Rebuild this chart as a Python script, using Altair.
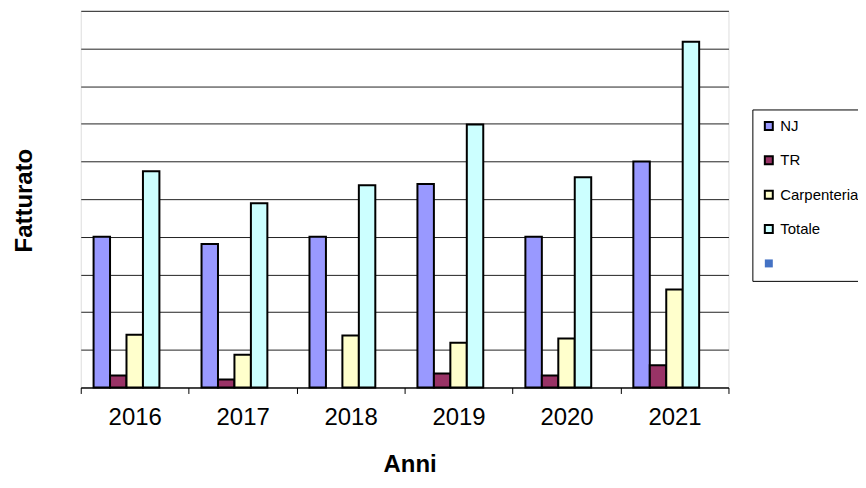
import altair as alt
import pandas as pd

years = ["2016", "2017", "2018", "2019", "2020", "2021"]
series = ["NJ", "TR", "Carpenteria", "Totale", " "]
colors = ["#9999FF", "#993366", "#FFFFCC", "#CCFFFF", "#4472C4"]
strokes = ["#000000", "#000000", "#000000", "#000000", "transparent"]

nj = [4.0, 3.81, 4.0, 5.4, 4.0, 6.0]
tr = [0.32, 0.21, None, 0.37, 0.32, 0.59]
carp = [1.40, 0.87, 1.38, 1.19, 1.30, 2.60]
totale = [5.74, 4.89, 5.37, 6.98, 5.58, 9.18]

rows = []
for name, vals in zip(series[:4], [nj, tr, carp, totale]):
    for y, v in zip(years, vals):
        if v is not None:
            rows.append({"Anno": y, "Serie": name, "Valore": v})
df = pd.DataFrame(rows)

font = "Liberation Sans"

legend = alt.Legend(title=None, orient="none", legendX=674, legendY=99,
                    symbolType="square", symbolSize=64,
                    symbolStrokeWidth=2, labelFont=font,
                    labelFontSize=15, labelColor="#000",
                    labelOffset=4, rowPadding=17.5, padding=9,
                    fillColor="white", strokeColor="#000")

chart = alt.Chart(df).mark_bar(strokeWidth=2).encode(
    x=alt.X("Anno:N", sort=years,
            scale=alt.Scale(paddingInner=0, paddingOuter=0),
            axis=alt.Axis(title="Anni", labelAngle=0, labelFontSize=24, labelFont=font,
                          labelColor="#000", labelPadding=12, tickBand="extent",
                          tickSize=6, tickColor="#000", domainColor="#000",
                          titleFont=font, titleFontSize=24, titleFontWeight="bold",
                          titleColor="#000", titleX=330, titleY=84,
                          titleBaseline="alphabetic", titleAlign="center")),
    xOffset=alt.XOffset("Serie:N", sort=series,
                        scale=alt.Scale(domain=series, paddingInner=0, paddingOuter=0.78)),
    y=alt.Y("Valore:Q", scale=alt.Scale(domain=[0, 10], nice=False),
            axis=alt.Axis(title="Fatturato", labels=False, ticks=False, domain=False,
                          tickCount=10, grid=True, gridColor="#222", gridWidth=1,
                          titleFont=font, titleFontSize=24, titleFontWeight="bold",
                          titleColor="#000", titleAngle=-90, titleX=-49, titleY=190,
                          titleBaseline="alphabetic", titleAlign="center")),
    color=alt.Color("Serie:N", scale=alt.Scale(domain=series, range=colors), legend=legend),
    stroke=alt.Stroke("Serie:N", scale=alt.Scale(domain=series, range=strokes), legend=legend),
).properties(
    width=650, height=378,
    autosize=alt.AutoSizeParams(type="none"),
    padding={"left": 73, "top": 2, "right": 130, "bottom": 88},
).configure_view(
    fill="#C0C0C0", stroke="#808080", strokeWidth=2
).configure(background="white")

chart.save("out.html", embed_options={"renderer": "svg", "actions": False})
